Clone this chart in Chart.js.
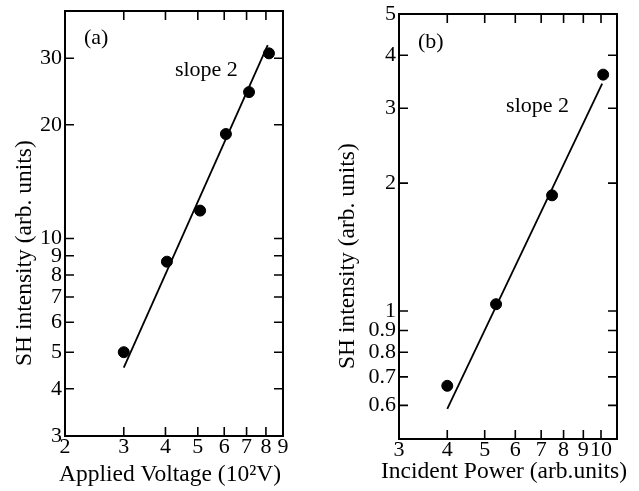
<!DOCTYPE html>
<html>
<head>
<meta charset="utf-8">
<script src="https://cdn.jsdelivr.net/npm/chart.js@4.4.1/dist/chart.umd.min.js"></script>
<style>
  html, body { margin: 0; padding: 0; background: #fff; }
  .fila { display: flex; width: 639px; height: 491px; }
  canvas { display: block; }
</style>
</head>
<body>
<div class="fila">
  <canvas id="graficoA" width="320" height="491"></canvas>
  <canvas id="graficoB" width="319" height="491"></canvas>
</div>
<script>
// --- datos panel (a) ---
const voltajeA = [3.0, 4.04, 5.08, 6.07, 7.12, 8.17];
const intensidadA = [5.0, 8.68, 11.85, 18.9, 24.4, 30.9];
const ajusteXA = [3.0, 8.1];
const ajusteYA = [4.55, 32.5];
const ticksXA = [2, 3, 4, 5, 6, 7, 8, 9];
const ticksYA = [3, 4, 5, 6, 7, 8, 9, 10, 20, 30];

// --- datos panel (b) ---
const potenciaB = [4.0, 5.35, 7.47, 10.13];
const intensidadB = [0.667, 1.038, 1.872, 3.6];
const ajusteXB = [4.0, 10.07];
const ajusteYB = [0.589, 3.43];
const ticksXB = [3, 4, 5, 6, 7, 8, 9, 10];
const ticksYB = [0.6, 0.7, 0.8, 0.9, 1, 2, 3, 4, 5];

Chart.defaults.font.family = '"Liberation Serif", "Times New Roman", serif';
Chart.defaults.color = '#000';

const pares = (xs, ys) => xs.map((x, i) => ({ x: x, y: ys[i] }));

// marco con ticks hacia dentro, notas y titulos de ejes
const marco = {
  id: 'marco',
  afterDatasetsDraw(chart, args, opts) {
    const { ctx, chartArea: a } = chart;
    const x = chart.scales.x, y = chart.scales.y;
    ctx.save();
    ctx.strokeStyle = '#000';
    ctx.lineWidth = 2;
    ctx.strokeRect(a.left, a.top, a.right - a.left, a.bottom - a.top);
    ctx.lineWidth = 1.6;
    ctx.beginPath();
    x.ticks.forEach(t => {
      const px = x.getPixelForValue(t.value);
      ctx.moveTo(px, a.bottom); ctx.lineTo(px, a.bottom - 9);
      ctx.moveTo(px, a.top); ctx.lineTo(px, a.top + 9);
    });
    y.ticks.forEach(t => {
      const py = y.getPixelForValue(t.value);
      ctx.moveTo(a.left, py); ctx.lineTo(a.left + 9, py);
      ctx.moveTo(a.right, py); ctx.lineTo(a.right - 9, py);
    });
    ctx.stroke();

    ctx.fillStyle = '#000';
    ctx.textAlign = 'left';
    ctx.textBaseline = 'middle';
    ctx.font = '22px "Liberation Serif"';
    opts.notas.forEach(n => {
      ctx.fillText(n.texto, x.getPixelForValue(n.x), y.getPixelForValue(n.y));
    });

    // titulo eje x (sin recorte al ancho del eje)
    ctx.font = '23.5px "Liberation Serif"';
    ctx.textAlign = 'center';
    ctx.fillText(opts.tituloX, (a.left + a.right) / 2 - 4, opts.tituloXPosY);

    // titulo eje y, girado
    ctx.textAlign = 'left';
    ctx.translate(opts.tituloYPosX, a.bottom - 70);
    ctx.rotate(-Math.PI / 2);
    ctx.fillText(opts.tituloY, 0, 0);
    ctx.restore();
  }
};

function crearPanel(id, cfg) {
  return new Chart(document.getElementById(id), {
    type: 'scatter',
    data: {
      datasets: [
        {
          data: pares(cfg.ajusteX, cfg.ajusteY),
          showLine: true,
          borderColor: '#000',
          borderWidth: 1.8,
          pointRadius: 0
        },
        {
          data: pares(cfg.xs, cfg.ys),
          backgroundColor: '#000',
          borderColor: '#000',
          pointRadius: 5.5,
          pointHoverRadius: 5.5
        }
      ]
    },
    options: {
      responsive: false,
      animation: false,
      layout: { padding: cfg.padding },
      scales: {
        x: {
          type: 'logarithmic',
          min: cfg.minX,
          max: cfg.maxX,
          afterBuildTicks: s => { s.ticks = cfg.ticksX.map(v => ({ value: v })); },
          afterFit: s => { s.height = cfg.altoX; },
          grid: { display: false, drawTicks: false },
          border: { display: false },
          ticks: {
            autoSkip: false,
            maxRotation: 0,
            padding: 0,
            font: { size: 22, lineHeight: 1 },
            color: '#000',
            callback: v => String(v)
          },
          title: { display: false, text: cfg.tituloX }
        },
        y: {
          type: 'logarithmic',
          min: cfg.minY,
          max: cfg.maxY,
          afterBuildTicks: s => { s.ticks = cfg.ticksY.map(v => ({ value: v })); },
          afterFit: s => { s.width = cfg.anchoY; },
          grid: { display: false, drawTicks: false },
          border: { display: false },
          ticks: {
            autoSkip: false,
            padding: 3,
            font: { size: 22, lineHeight: 0.6 },
            color: '#000',
            callback: v => String(v)
          },
          title: { display: false, text: 'SH intensity (arb. units)' }
        }
      },
      plugins: {
        legend: { display: false },
        tooltip: { enabled: false },
        marco: {
          notas: cfg.notas,
          tituloX: cfg.tituloX,
          tituloXPosY: cfg.tituloXPosY,
          tituloY: 'SH intensity (arb. units)',
          tituloYPosX: cfg.tituloYPosX
        }
      }
    },
    plugins: [marco]
  });
}

crearPanel('graficoA', {
  xs: voltajeA, ys: intensidadA,
  ajusteX: ajusteXA, ajusteY: ajusteYA,
  ticksX: ticksXA, ticksY: ticksYA,
  minX: 2, maxX: 9, minY: 3, maxY: 40,
  padding: { left: 0, top: 11, right: 37, bottom: 0 },
  anchoY: 65, altoX: 55,
  tituloX: 'Applied Voltage (10²V)', tituloXPosY: 475, tituloYPosX: 25,
  notas: [
    { texto: '(a)', x: 2.28, y: 33.9 },
    { texto: 'slope 2', x: 4.27, y: 27.9 }
  ]
});

crearPanel('graficoB', {
  xs: potenciaB, ys: intensidadB,
  ajusteX: ajusteXB, ajusteY: ajusteYB,
  ticksX: ticksXB, ticksY: ticksYB,
  minX: 3, maxX: 11, minY: 0.5, maxY: 5,
  padding: { left: 0, top: 14, right: 22, bottom: 0 },
  anchoY: 79, altoX: 52,
  tituloX: 'Incident Power (arb.units)', tituloXPosY: 472, tituloYPosX: 28,
  notas: [
    { texto: '(b)', x: 3.36, y: 4.3 },
    { texto: 'slope 2', x: 5.68, y: 3.03 }
  ]
});
</script>
</body>
</html>
